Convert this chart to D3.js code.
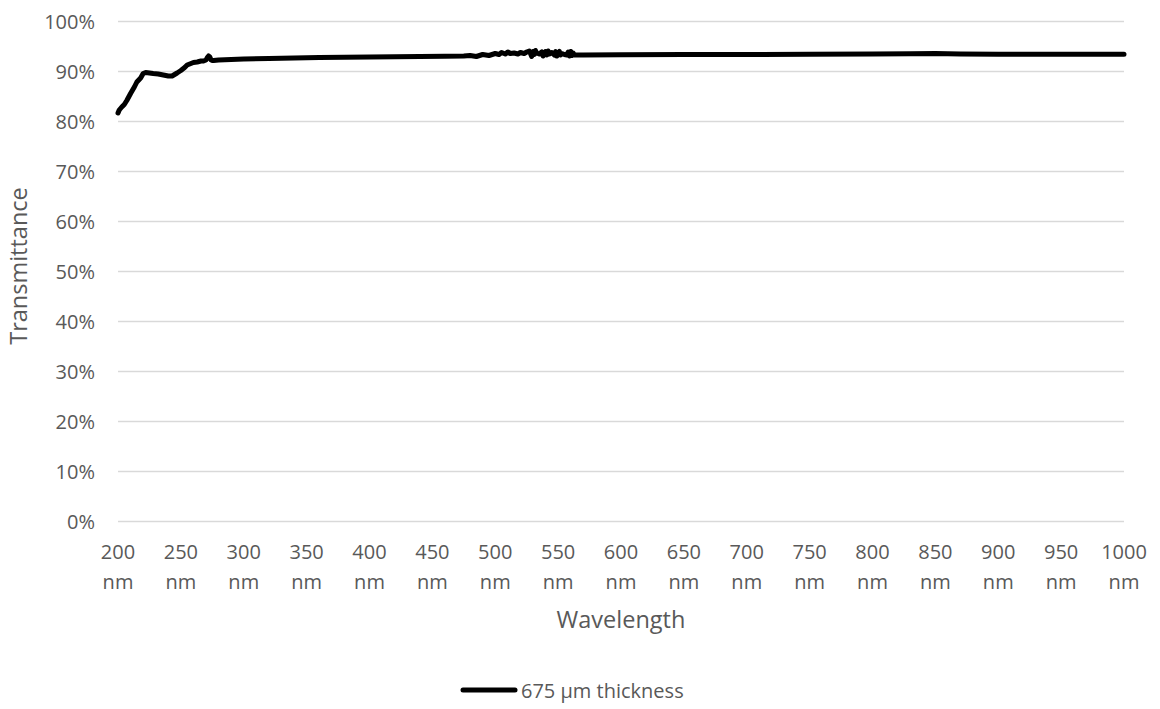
<!DOCTYPE html>
<html><head><meta charset="utf-8">
<script src="https://cdn.jsdelivr.net/npm/d3@7"></script>
<style>body{margin:0;background:#fff;} text{font-family:"Open Sans",sans-serif;}</style>
</head><body>
<svg id="c" width="1160" height="709"></svg>
<script>
const wavelengths = [200,201,203,205,207,210,213,215,218,220,222,225,228,232,236,240,243,245,247,250,253,255,258,260,263,266,268,270,271,272,273,274,275,276,280,290,300,320,340,360,380,400,420,440,460,475,480,485,490,495,500,503,505,508,510,512,515,518,520,523,525,527,528,529,530,531,532,533,535,537,538,540,541,542,543,545,547,548,549,550,551,552,553,555,557,558,559,560,561,562,563,565,570,600,650,700,750,800,830,850,870,900,950,1000];
const transmittance = [81.6,82.2,82.8,83.3,84.1,85.5,86.8,87.8,88.6,89.5,89.7,89.6,89.5,89.4,89.2,89.0,89.0,89.3,89.6,90.1,90.7,91.2,91.5,91.7,91.8,92.0,92.0,92.2,92.7,93.0,92.8,92.2,92.1,92.1,92.2,92.3,92.4,92.5,92.6,92.7,92.75,92.8,92.85,92.9,92.95,93.0,93.1,92.9,93.3,93.1,93.5,93.3,93.7,93.4,93.8,93.5,93.6,93.4,93.7,93.5,93.8,94.0,93.5,92.9,93.9,93.3,94.1,93.6,93.4,93.8,93.0,93.9,93.2,94.0,93.4,93.7,93.2,93.9,93.0,93.6,93.9,93.2,93.5,93.3,93.2,93.8,93.0,93.9,93.1,93.6,93.2,93.2,93.2,93.25,93.3,93.3,93.35,93.4,93.45,93.5,93.4,93.35,93.35,93.35];
const xTicks = [200,250,300,350,400,450,500,550,600,650,700,750,800,850,900,950,1000];
const yTicks = [0,10,20,30,40,50,60,70,80,90,100];
const seriesName = "675 µm thickness";
const xTitle = "Wavelength", yTitle = "Transmittance";

const svg = d3.select("#c");
const x = d3.scaleLinear().domain([200,1000]).range([118,1124]);
const y = d3.scaleLinear().domain([0,100]).range([521,21]);
const grey = "#595959";

// gridlines
svg.append("g").selectAll("line").data(yTicks).join("line")
  .attr("x1",x(200)).attr("x2",x(1000))
  .attr("y1",d=>y(d)+0.5).attr("y2",d=>y(d)+0.5)
  .attr("stroke","#d9d9d9").attr("stroke-width",1.3);

// y labels
svg.append("g").selectAll("text").data(yTicks).join("text")
  .attr("x",95).attr("y",d=>y(d)+7.5)
  .attr("text-anchor","end").attr("fill",grey).attr("font-size",20)
  .text(d=>d+"%");

// x labels
const xl = svg.append("g").selectAll("text").data(xTicks).join("text")
  .attr("text-anchor","middle").attr("fill",grey).attr("font-size",20);
xl.append("tspan").attr("x",d=>x(d)).attr("y",559).text(d=>d);
xl.append("tspan").attr("x",d=>x(d)).attr("y",589).text("nm");

// axis titles
svg.append("text").attr("x",(x(200)+x(1000))/2).attr("y",628)
  .attr("text-anchor","middle").attr("fill",grey).attr("font-size",23.5).text(xTitle);
svg.append("text").attr("transform",`translate(27,266) rotate(-90)`)
  .attr("text-anchor","middle").attr("fill",grey).attr("font-size",23.5).text(yTitle);

// line
const data = wavelengths.map((w,i)=>[w,transmittance[i]]);
svg.append("path").datum(data)
  .attr("d",d3.line().x(d=>x(d[0])).y(d=>y(d[1])))
  .attr("fill","none").attr("stroke","#000").attr("stroke-width",5)
  .attr("stroke-linejoin","round").attr("stroke-linecap","round");

// legend
svg.append("line").attr("x1",463).attr("x2",515).attr("y1",690).attr("y2",690)
  .attr("stroke","#000").attr("stroke-width",5).attr("stroke-linecap","round");
svg.append("text").attr("x",521).attr("y",698)
  .attr("fill",grey).attr("font-size",20).text(seriesName);
</script>
</body></html>
